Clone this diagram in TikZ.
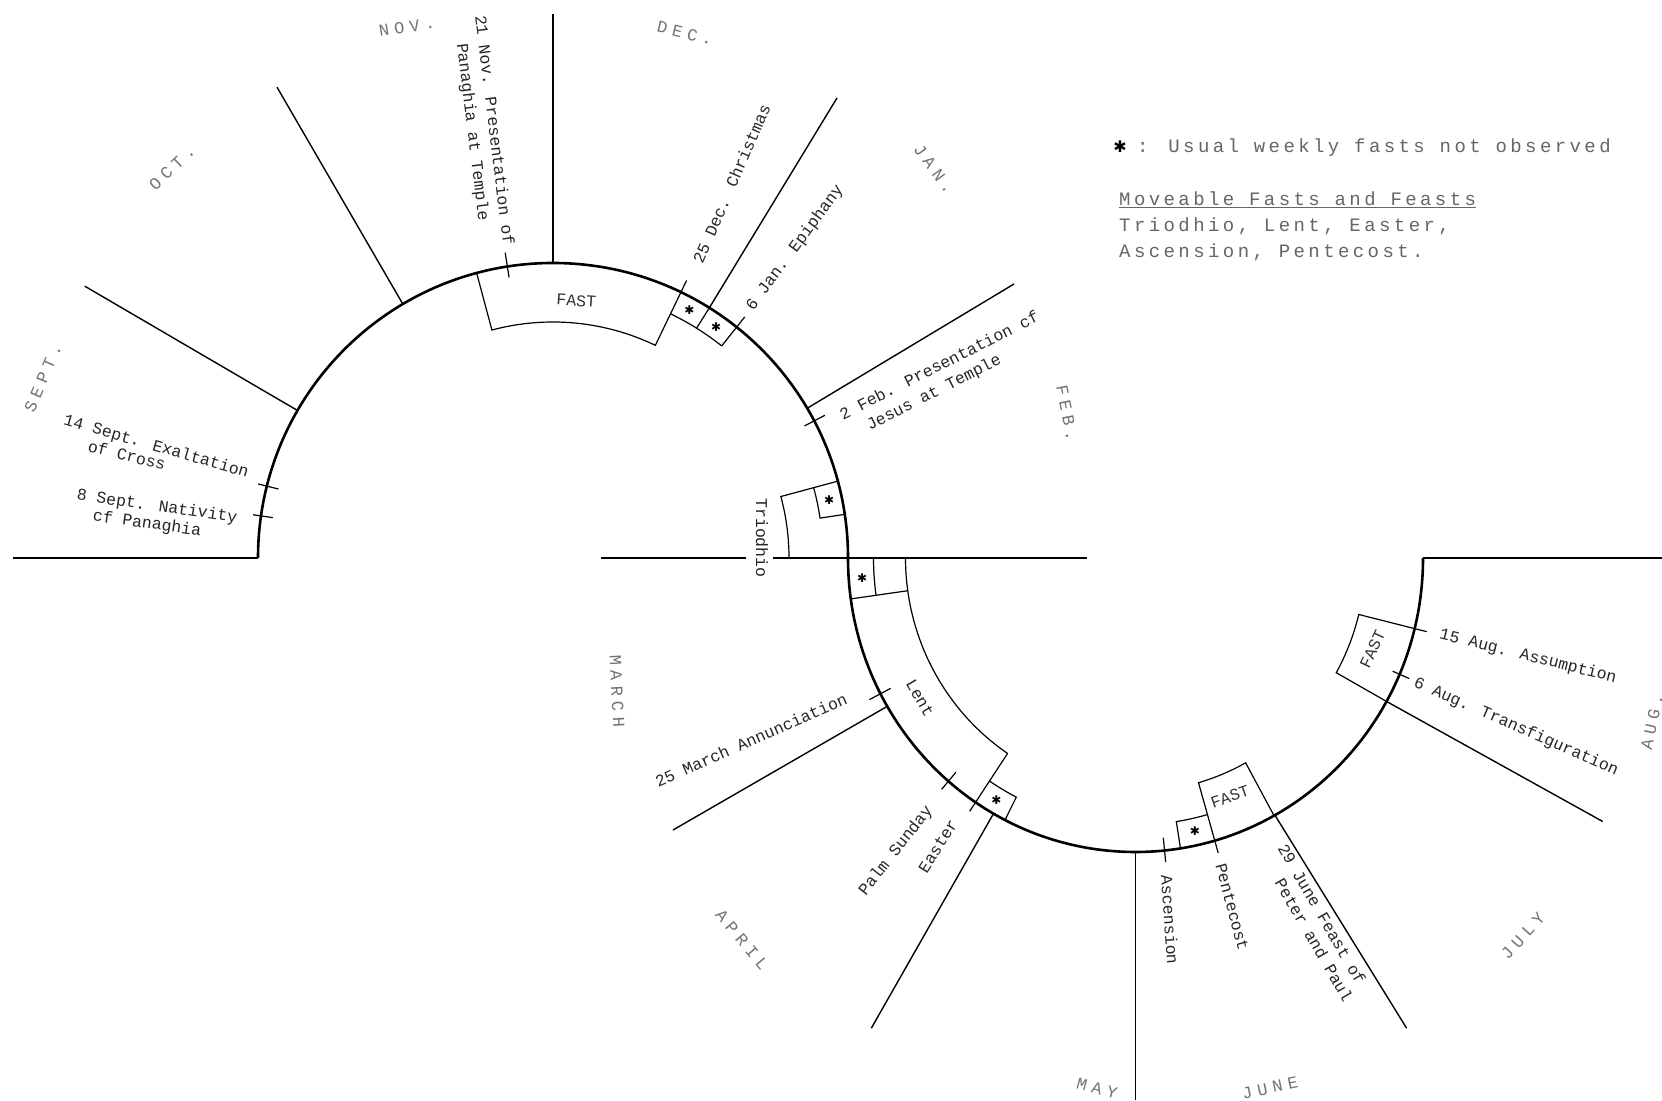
\documentclass[tikz,border=0pt]{standalone}
\usepackage{fontspec}
\newfontfamily\evfont{Liberation Mono}
\newfontfamily\mofont[LetterSpace=31]{Liberation Mono}
\newfontfamily\lgfont[LetterSpace=18]{Liberation Mono}
\newfontfamily\symfont{DejaVu Sans}
\begin{document}
\begin{tikzpicture}[x=1pt,y=1pt,
  arcl/.style={line width=2.6pt},
  mline/.style={line width=1.4pt},
  bx/.style={line width=1.2pt},
  tk/.style={line width=1.2pt},
  ev/.style={font=\evfont\fontsize{16.5}{19}\selectfont, text=black!85, inner sep=0pt},
  fst/.style={font=\evfont\fontsize{16.5}{19}\selectfont, text=black!80, inner sep=0pt},
  mo/.style={font=\mofont\fontsize{17}{20}\selectfont, text=black!55, inner sep=0pt},
  lg/.style={font=\lgfont\fontsize{19}{22}\selectfont, text=black!60, inner sep=0pt, anchor=base west},
  astk/.style={font=\symfont\fontsize{12}{12}\selectfont, inner sep=0pt}]
\useasboundingbox (0,0) rectangle (1662,1100);
\fill[white] (0,0) rectangle (1662,1100);

% ---------- upper half circle (Sept - Feb)
\begin{scope}[shift={(553,542)}]
  \draw[arcl] (180:295) arc[start angle=180,end angle=0,radius=295];
  \coordinate (uSO) at (150:295);
  \coordinate (uON) at (120.6:295);
  \coordinate (uND) at (90:295);
  \coordinate (uDJ) at (58:295);
  \coordinate (uJF) at (30.5:295);
  % Nativity fast
  \draw[bx] (105:295) -- (105:236) arc[start angle=105,end angle=64.3,radius=236] -- (64.3:308);
  \draw[bx] (64.3:271) arc[start angle=64.3,end angle=51.5,radius=271];
  \draw[bx] (58:271) -- (58:295);
  \draw[bx] (51.5:271) -- (51.5:308);
  \node[astk] (sDec) at (61.2:283) {✱};
  \node[astk] (sJan) at (54.8:283) {✱};
  % ticks
  \draw[tk] (98.9:284) -- (98.9:309);
  \draw[tk] (165.9:283) -- (165.9:304);
  \draw[tk] (171.8:283) -- (171.8:303);
  \draw[tk] (27.7:284) -- (27.7:307);
  % Triodhio
  \draw[bx] (0:236) arc[start angle=0,end angle=15.1,radius=236] -- (15.1:295);
  \draw[bx] (15.1:270) arc[start angle=15.1,end angle=8.5,radius=270] -- (8.5:295);
  \node[astk] (sTri) at (11.8:282) {✱};
\end{scope}

% ---------- lower half circle (March - Aug)
\begin{scope}[shift={(1135.5,542)}, yscale=1.0226]
  \draw[arcl] (180:287.5) arc[start angle=180,end angle=360,radius=287.5];
  \coordinate (lMA) at (210.3:287.5);
  \coordinate (lAM) at (240.4:287.5);
  \coordinate (lMJ) at (270:287.5);
  \coordinate (lJJ) at (299:287.5);
  \coordinate (lJA) at (330.8:287.5);
  % Triodhio continuation and Lent
  \draw[bx] (180:230) arc[start angle=180,end angle=236.2,radius=230];
  \draw[bx] (180:262) arc[start angle=180,end angle=188,radius=262];
  \draw[bx] (188:230) -- (188:287.5);
  \draw[bx] (236.2:230) -- (236.2:298);
  \draw[bx] (236.2:262.5) arc[start angle=236.2,end angle=243,radius=262.5] -- (243:287.5);
  \node[astk] (sMar) at (184.2:274) {✱};
  \node[astk] (sEas) at (239.6:275) {✱};
  % ticks
  \draw[tk] (207.5:276) -- (207.5:300);
  \draw[tk] (229.4:276) -- (229.4:298);
  \draw[tk] (275.8:275) -- (275.8:299);
  \draw[tk] (336.7:280) -- (336.7:298);
  % Pentecost week
  \draw[bx] (279:287.5) -- (279:261) arc[start angle=279,end angle=286,radius=261];
  \node[astk] (sPen) at (282.5:274) {✱};
  % Apostles fast
  \draw[bx] (286:300) -- (286:228.6) arc[start angle=286,end angle=298.8,radius=228.6] -- (298.8:287.5);
  % Dormition fast
  \draw[bx] (330.8:287.5) -- (330.8:230) arc[start angle=330.8,end angle=346.1,radius=230] -- (346.1:300);
\end{scope}

% ---------- month boundaries
\draw[mline] (13,542) -- (258,542);
\draw[mline] (uSO) -- (84.8,813.8);
\draw[mline] (uON) -- (277,1012.8);
\draw[mline] (uND) -- (553,1086);
\draw[mline] (uDJ) -- (837,1002);
\draw[mline] (uJF) -- (1014,816);
\draw[mline] (601,542) -- (746,542);
\draw[mline] (773,542) -- (1087,542);
\draw[mline] (lMA) -- (673,270);
\draw[mline] (lAM) -- (871.3,71.8);
\draw[mline] (lMJ) -- (1135.5,0);
\draw[mline] (lJJ) -- (1406.6,71.8);
\draw[mline] (lJA) -- (1602.7,278.5);
\draw[mline] (1423,542) -- (1662,542);

% ---------- month names
\node[mo, rotate=67]  (mSep) at (43,722)   {SEPT.};
\node[mo, rotate=44]  (mOct) at (172,932)  {OCT.};
\node[mo, rotate=9]   (mNov) at (407,1073) {NOV.};
\node[mo, rotate=-14] (mDec) at (685,1067) {DEC.};
\node[mo, rotate=-54] (mJan) at (934,931)  {JAN.};
\node[mo, rotate=-79] (mFeb) at (1067,687) {FEB.};
\node[mo, rotate=-87] (mMar) at (617,409)  {MARCH};
\node[mo, rotate=-50] (mApr) at (742,160)  {APRIL};
\node[mo, rotate=-15] (mMay) at (1097,12)  {MAY};
\node[mo, rotate=12]  (mJun) at (1270,12)  {JUNE};
\node[mo, rotate=48]  (mJul) at (1523,164) {JULY};
\node[mo, rotate=78]  (mAug) at (1652,378) {AUG.};

% ---------- feasts
\node[ev, rotate=-83] (n21a) at (495,970) {21 Nov. Presentation of};
\node[ev, rotate=-83] (n21b) at (472,968) {Panaghia at Temple};
\node[ev, rotate=-16] (n14a) at (156,653) {14 Sept. Exaltation};
\node[ev, rotate=-14] (n14b) at (127,645) {of Cross};
\node[ev, rotate=-8]  (n8a)  at (157,593) {8 Sept. Nativity};
\node[ev, rotate=-8]  (n8b)  at (147,576) {cf Panaghia};
\node[ev, rotate=66.5] (n25d) at (731.5,916.5) {25 Dec. Christmas};
\node[ev, rotate=53.5] (n6j) at (795,852) {6 Jan. Epiphany};
\node[ev, rotate=27] (n2fa) at (939,735) {2 Feb. Presentation cf};
\node[ev, rotate=27] (n2fb) at (934,707) {Jesus at Temple};
\node[ev, rotate=-90] (nTri) at (762,562) {Triodhio};
\node[ev, rotate=24] (n25m) at (751,360) {25 March Annunciation};
\node[ev, rotate=-60] (nLent) at (920,402) {Lent};
\node[ev, rotate=52] (nPalm) at (896,249) {Palm Sunday};
\node[ev, rotate=58] (nEas) at (938,254) {Easter};
\node[ev, rotate=-86] (nAsc) at (1170,180) {Ascension};
\node[ev, rotate=-75] (nPen) at (1232,193) {Pentecost};
\node[ev, rotate=-60] (n29a) at (1322,186) {29 June Feast of};
\node[ev, rotate=-60] (n29b) at (1314,160) {Peter and Paul};
\node[ev, rotate=-14] (n15a) at (1528,443.5) {15 Aug. Assumption};
\node[ev, rotate=-23.5] (n6a) at (1516,373) {6 Aug. Transfiguration};
\node[fst, rotate=-4] (fNov) at (576.3,799.2) {FAST};
\node[fst, rotate=19] (fJun) at (1230,303.3) {FAST};
\node[fst, rotate=65] (fAug) at (1372.5,451) {FAST};

% ---------- legend
\node[astk, font=\symfont\fontsize{16}{16}\selectfont] (lgs) at (1120,953) {✱};
\node[lg] (lg1) at (1137,947.5) {: Usual weekly fasts not observed};
\node[lg] (lg2) at (1119,894) {\underline{Moveable Fasts and Feasts}};
\node[lg] (lg3) at (1119,868) {Triodhio, Lent, Easter,};
\node[lg] (lg4) at (1119,842) {Ascension, Pentecost.};
\end{tikzpicture}
\end{document}
